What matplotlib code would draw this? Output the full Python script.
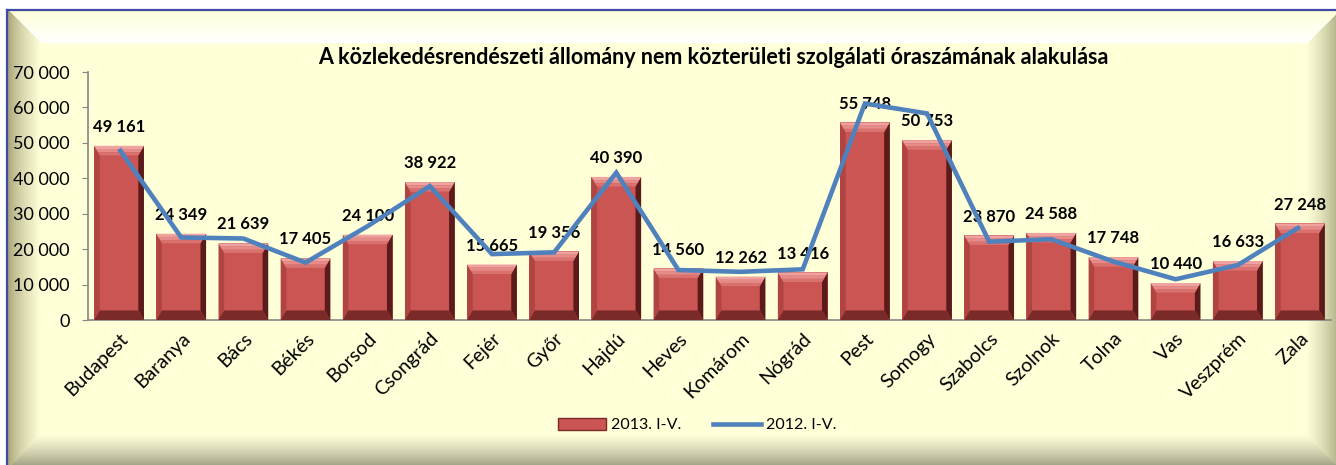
#!/usr/bin/env python3
"""Közlekedésrendészeti állomány nem közterületi szolgálati óraszáma megyénként.

Writes: out.png
"""

import matplotlib
matplotlib.use("Agg")
import matplotlib.pyplot as plt
import numpy as np
from matplotlib.lines import Line2D
from matplotlib.patches import Patch, Polygon
from matplotlib.ticker import FuncFormatter, MultipleLocator

plt.rcParams["font.family"] = ["Lato", "DejaVu Sans"]

megyek = ["Budapest", "Baranya", "Bács", "Békés", "Borsod", "Csongrád", "Fejér",
          "Győr", "Hajdú", "Heves", "Komárom", "Nógrád", "Pest", "Somogy",
          "Szabolcs", "Szolnok", "Tolna", "Vas", "Veszprém", "Zala"]
ora_2013 = [49161, 24349, 21639, 17405, 24100, 38922, 15665, 19356, 40390, 14560,
            12262, 13416, 55748, 50753, 23870, 24588, 17748, 10440, 16633, 27248]
ora_2012 = [48300, 23300, 23000, 16200, 26500, 37800, 18600, 19100, 41600, 14100,
            13600, 14300, 61100, 58300, 22100, 22800, 16500, 11500, 15500, 26300]

CIM = ("A közlekedésrendészeti állomány nem közterületi "
       "szolgálati óraszámának alakulása")
W, H = 1336, 465


def ezres(v, _pos=None):
    return f"{int(round(v)):,}".replace(",", " ")


fig = plt.figure(figsize=(W / 100, H / 100), dpi=100)

# ── beveled pale-yellow chart frame drawn as a background image ───────
bg = fig.add_axes([0, 0, 1, 1], zorder=-10)
yy, xx = np.mgrid[0:H, 0:W] + 0.5
fl, ft, fr, fb, bw = 7, 10, 1341, 469, 34
base = np.array([1.0, 1.0, 0.85])
img = np.ones((H, W, 3))
inside = (xx >= fl) & (yy >= ft)
img[inside] = base
dists = np.stack([xx - fl, yy - ft, fr - xx, fb - yy])
side = dists.argmin(axis=0)
t = np.clip(dists.min(axis=0) / bw, 0, 1)[..., None]
edge_cols = {0: ((0.60, 0.58, 0.40), base, 0.6),
             1: (base, (1.0, 1.0, 1.0), 1.0),
             2: ((0.62, 0.62, 0.46), base, 0.7),
             3: ((0.54, 0.54, 0.44), base, 0.7)}
for s, (c_out, c_in, g) in edge_cols.items():
    m = inside & (side == s) & (t[..., 0] < 1)
    tt = t ** g
    blend = np.array(c_out) * (1 - tt) + np.array(c_in) * tt
    img[m] = blend[m]
bg.imshow(img, extent=[0, W, H, 0], aspect="auto", interpolation="bilinear")
bg.plot([fl, fl], [ft, H], color="#3F4AA8", lw=1.6)
bg.plot([fl, W], [ft, ft], color="#3F4AA8", lw=1.6)
bg.set_xlim(0, W)
bg.set_ylim(H, 0)
bg.axis("off")

# ── plot area ─────────────────────────────────────────────────────────
ax = fig.add_axes([88 / W, 1 - 320 / H, (1331 - 88) / W, (320 - 72) / H])
ax.patch.set_alpha(0)
x = np.arange(len(megyek))
bar_w = 0.8

face = "#CA5552"
ax.bar(x, ora_2013, width=bar_w, color=face, zorder=2)

# bevel facets on every bar; the top facet is shaded in a few bands
bx, by = 0.09, 2700
top_bands = ["#EFA3A0", "#E58C89", "#D9716E"]
for xi, v in zip(x, ora_2013):
    x0, x1 = xi - bar_w / 2, xi + bar_w / 2
    facets = [
        ([(x0, 0), (x0, v), (x0 + bx, v - by), (x0 + bx, by)], "#B04442"),
        ([(x1, 0), (x1, v), (x1 - bx, v - by), (x1 - bx, by)], "#5A1B1A"),
        ([(x0, 0), (x1, 0), (x1 - bx, by), (x0 + bx, by)], "#7A2A28"),
    ]
    for pts, c in facets:
        ax.add_patch(Polygon(pts, closed=True, color=c, lw=0, zorder=3))
    n = len(top_bands)
    for k, c in enumerate(top_bands):
        f0, f1 = k / n, (k + 1) / n
        pts = [(x0 + bx * f0, v - by * f0), (x1 - bx * f0, v - by * f0),
               (x1 - bx * f1, v - by * f1), (x0 + bx * f1, v - by * f1)]
        ax.add_patch(Polygon(pts, closed=True, color=c, lw=0, zorder=3))
    ax.annotate(ezres(v), (xi, v), xytext=(0, 10), textcoords="offset points",
                ha="center", va="baseline", fontsize=12, fontweight="bold",
                zorder=4)

ax.plot(x, ora_2012, color="#4F81BD", lw=3.3, solid_joinstyle="miter",
        solid_capstyle="butt", zorder=5)

ax.set_xlim(-0.5, len(megyek) - 0.5)
ax.set_ylim(0, 70000)
ax.yaxis.set_major_locator(MultipleLocator(10000))
ax.yaxis.set_major_formatter(FuncFormatter(ezres))
ax.tick_params(axis="y", length=4, color="#868686", pad=9, labelsize=13)
ax.tick_params(axis="x", length=0, pad=7)
ax.set_xticks(x)
ax.set_xticklabels(megyek, rotation=45, ha="right", va="top",
                   rotation_mode="anchor", fontsize=14)
for s in ("top", "right"):
    ax.spines[s].set_visible(False)
for s in ("left", "bottom"):
    ax.spines[s].set_color("#868686")
    ax.spines[s].set_linewidth(1.2)

fig.text(713 / W, 1 - 57 / H, CIM, ha="center", va="center",
         fontsize=15.5, fontweight="bold")

handles = [Patch(facecolor=face, edgecolor="#7A2A28", lw=1),
           Line2D([], [], color="#4F81BD", lw=3.3)]
fig.legend(handles, ["2013. I-V.", "2012. I-V."], loc="center",
           bbox_to_anchor=(697 / W, 1 - 425 / H), ncol=2, frameon=False,
           fontsize=11.5, handlelength=3.0, handleheight=0.8,
           columnspacing=2.0, handletextpad=0.3)

fig.savefig("out.png", dpi=100)
print("wrote: out.png")
